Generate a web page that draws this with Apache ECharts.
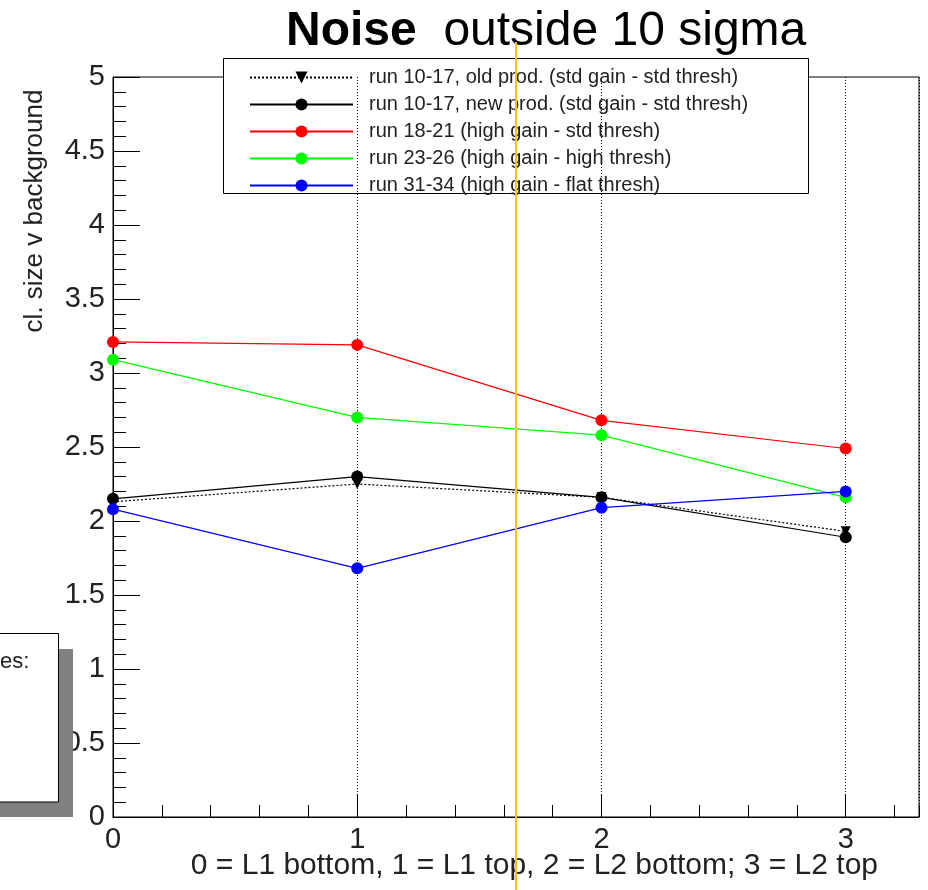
<!DOCTYPE html>
<html>
<head>
<meta charset="utf-8">
<script src="https://cdn.jsdelivr.net/npm/echarts@6/dist/echarts.min.js"></script>
<style>
  html, body { margin: 0; padding: 0; background: #fff; }
  #chart { width: 928px; height: 890px; }
</style>
</head>
<body>
<div id="chart"></div>
<script>
// Layer positions: 0 = L1 bottom, 1 = L1 top, 2 = L2 bottom, 3 = L2 top
const positions = [0, 1, 2, 3];
const xTickLabels = ['0', '1', '2', '3'];

const seriesNames = [
  'run 10-17, old prod. (std gain - std thresh)',
  'run 10-17, new prod. (std gain - std thresh)',
  'run 18-21 (high gain - std thresh)',
  'run 23-26 (high gain - high thresh)',
  'run 31-34 (high gain - flat thresh)'
];

// cluster size vs background, one value per layer position
const oldProd  = [2.13, 2.25, 2.16, 1.93];
const newProd  = [2.15, 2.30, 2.16, 1.89];
const run18_21 = [3.21, 3.19, 2.68, 2.49];
const run23_26 = [3.09, 2.70, 2.58, 2.16];
const run31_34 = [2.08, 1.68, 2.09, 2.20];

const FONT = '"Liberation Sans", Arial, Helvetica, sans-serif';

function pairs(values) {
  return positions.map((x, i) => [x, values[i]]);
}

function lineSeries(name, values, color, opts) {
  return Object.assign({
    name: name,
    type: 'line',
    xAxisIndex: 0,
    yAxisIndex: 0,
    data: pairs(values),
    symbol: 'circle',
    symbolSize: 12,
    showAllSymbol: true,
    animation: false,
    itemStyle: { color: color },
    lineStyle: { color: color, width: 1.2, type: 'solid' },
    emphasis: { disabled: true }
  }, opts || {});
}

const chart = echarts.init(document.getElementById('chart'), null, { renderer: 'canvas' });

const option = {
  backgroundColor: '#ffffff',
  animation: false,
  title: {
    text: '{b|Noise}  outside 10 sigma',
    left: 281,
    top: 3,
    textStyle: {
      fontFamily: FONT,
      fontSize: 48,
      fontWeight: 'normal',
      color: '#000',
      rich: {
        b: { fontFamily: FONT, fontSize: 48, fontWeight: 'bold', color: '#000' }
      }
    }
  },
  grid: {
    left: 113, right: 9, top: 77, bottom: 73,
    show: true,
    borderColor: '#000',
    borderWidth: 1,
    backgroundColor: 'transparent'
  },
  legend: {
    orient: 'vertical',
    left: 244,
    top: 62,
    itemWidth: 103,
    itemHeight: 15,
    itemGap: 6,
    selectedMode: false,
    data: seriesNames,
    textStyle: {
      fontFamily: FONT,
      fontSize: 20,
      lineHeight: 21,
      color: '#222',
      padding: [0, 0, 0, 11]
    }
  },
  xAxis: [
    {
      type: 'value',
      min: 0,
      max: 3.3,
      interval: 1,
      position: 'bottom',
      axisLine: { show: true, onZero: false, lineStyle: { color: '#000', width: 1 } },
      axisTick: { show: true, inside: true, length: 23, lineStyle: { color: '#000', width: 1 } },
      axisLabel: {
        fontFamily: FONT,
        fontSize: 29,
        color: '#222',
        margin: 8,
        showMaxLabel: false,
        formatter: function (v) {
          const i = positions.indexOf(v);
          return i >= 0 ? xTickLabels[i] : '';
        }
      },
      splitLine: { show: true, lineStyle: { color: '#000', width: 1, type: [1, 2] } }
    },
    {
      type: 'value',
      min: 0,
      max: 3.3,
      interval: 0.2,
      position: 'bottom',
      axisLine: { show: false },
      axisTick: { show: true, inside: true, length: 12, lineStyle: { color: '#000', width: 1 } },
      axisLabel: { show: false },
      splitLine: { show: false }
    }
  ],
  yAxis: {
    type: 'value',
    min: 0,
    max: 5,
    interval: 0.5,
    axisLine: { show: true, onZero: false, lineStyle: { color: '#000', width: 1 } },
    axisTick: { show: true, inside: true, length: 27, lineStyle: { color: '#000', width: 1 } },
    minorTick: { show: true, splitNumber: 5, length: 13, lineStyle: { color: '#000', width: 1 } },
    axisLabel: { fontFamily: FONT, fontSize: 29, color: '#222', margin: 8 },
    splitLine: { show: false }
  },
  series: [
    lineSeries(seriesNames[0], oldProd, '#000', {
      symbol: 'triangle',
      symbolRotate: 180,
      symbolSize: 10,
      lineStyle: { color: '#000', width: 1.2, type: [2, 2] }
    }),
    lineSeries(seriesNames[1], newProd, '#000'),
    lineSeries(seriesNames[2], run18_21, '#ff0000'),
    lineSeries(seriesNames[3], run23_26, '#00ff00'),
    lineSeries(seriesNames[4], run31_34, '#0000ff')
  ],
  graphic: [
    // legend frame
    {
      type: 'rect', z: 0,
      shape: { x: 223.5, y: 58.5, width: 585, height: 135 },
      style: { fill: '#fff', stroke: '#000', lineWidth: 1 }
    },
    // y axis title
    {
      type: 'text', z: 10,
      x: 35, y: 211, rotation: Math.PI / 2,
      style: {
        text: 'cl. size v background',
        fontFamily: FONT, fontSize: 26, fill: '#222',
        align: 'center', verticalAlign: 'middle'
      }
    },
    // x axis title
    {
      type: 'text', z: 10,
      x: 878, y: 866,
      style: {
        text: '0 = L1 bottom, 1 = L1 top, 2 = L2 bottom; 3 = L2 top',
        fontFamily: FONT, fontSize: 30, fill: '#222',
        align: 'right', verticalAlign: 'middle'
      }
    },
    // notes pad with drop shadow
    {
      type: 'rect', z: 20,
      shape: { x: 0, y: 649, width: 73, height: 168 },
      style: { fill: '#808080' }
    },
    {
      type: 'rect', z: 21,
      shape: { x: -2, y: 633.5, width: 60.5, height: 168.5 },
      style: { fill: '#fff', stroke: '#000', lineWidth: 1 }
    },
    {
      type: 'text', z: 22,
      x: 0, y: 662,
      style: {
        text: 'es:',
        fontFamily: FONT, fontSize: 22, fill: '#222',
        align: 'left', verticalAlign: 'middle'
      }
    },
    // vertical guide line
    {
      type: 'line', z: 30,
      shape: { x1: 516, y1: 42, x2: 516, y2: 890 },
      style: { stroke: '#f4c60f', lineWidth: 2 }
    }
  ]
};

chart.setOption(option);
</script>
</body>
</html>
